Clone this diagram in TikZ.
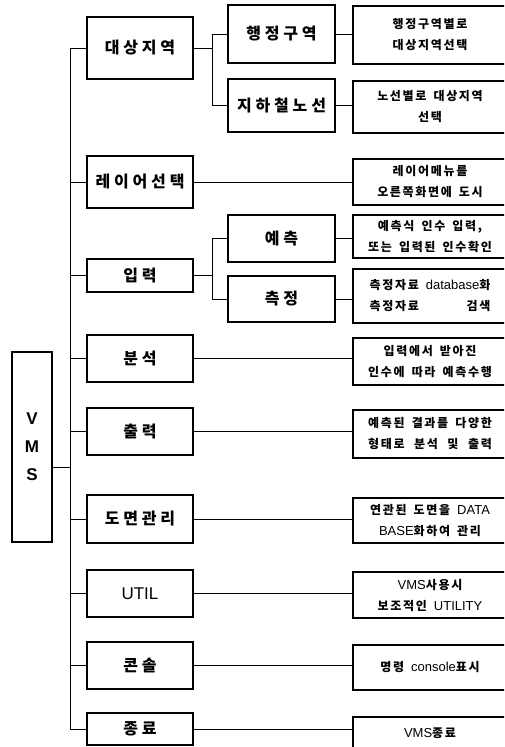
\documentclass[tikz,border=0pt]{standalone}
\usepackage{fontspec}
\setmainfont{Noto Sans CJK KR}
\newfontfamily\kr{Noto Sans CJK KR}[LetterSpace=14, WordSpace=1.6]
\newfontfamily\krl{Noto Sans CJK KR}[LetterSpace=24]
\newfontfamily\latf{Liberation Sans}
\newcommand\latn[1]{{\latf\mdseries\fontsize{13}{21}\selectfont #1}}
\begin{document}
\begin{tikzpicture}[x=1pt,y=-1pt,
  lbox/.style={draw, line width=2pt, inner sep=0pt, minimum width=106pt,
    font=\krl\bfseries\fontsize{16}{18}\selectfont},
  mbox/.style={lbox, minimum width=107pt},
  rbox/.style={draw, line width=1.2pt, inner sep=0pt, minimum width=154pt, align=center,
    font=\kr\bfseries\fontsize{12}{21}\selectfont},
  conn/.style={line width=1pt}]
\clip (0,0) rectangle (504,747);
\fill[white] (0,0) rectangle (504,747);
% VMS
\node[draw, line width=2pt, inner sep=0pt, minimum width=40pt, minimum height=190pt, align=center,
  font=\latf\bfseries\fontsize{17}{28}\selectfont] (vms) at (32,447) {V\\M\\S};
% left column
\node[lbox, minimum height=62pt] (dsjy) at (140,48) {대상지역};
\node[lbox, minimum height=52pt] (lyr) at (140,182) {레이어선택};
\node[lbox, minimum height=33pt] (ipr) at (140,275.5) {입력};
\node[lbox, minimum height=47pt] (bs) at (140,358.5) {분석};
\node[lbox, minimum height=47pt] (chr) at (140,431.5) {출력};
\node[lbox, minimum height=48pt] (dm) at (140,519) {도면관리};
\node[lbox, minimum height=47pt, font=\latf\fontsize{17}{18}\selectfont] (utl) at (140,593.5) {UTIL};
\node[lbox, minimum height=47pt] (ks) at (140,665.5) {콘솔};
\node[lbox, minimum height=32pt] (jr) at (140,729) {종료};
% middle column
\node[mbox, minimum height=58pt] (hj) at (281.5,34) {행정구역};
\node[mbox, minimum height=53pt] (jh) at (281.5,105.5) {지하철노선};
\node[mbox, minimum height=47pt] (ych) at (281.5,238.5) {예측};
\node[mbox, minimum height=46pt] (chj) at (281.5,299) {측정};
% right column
\node[rbox, minimum height=58pt] (r1) at (430,35) {행정구역별로\\대상지역선택};
\node[rbox, minimum height=52pt] (r2) at (430,107) {노선별로 대상지역\\선택};
\node[rbox, minimum height=46pt] (r3) at (430,182) {레이어메뉴를\\오른쪽화면에 도시};
\node[rbox, minimum height=43pt] (r4) at (430,236.5) {예측식 인수 입력,\\또는 입력된 인수확인};
\node[rbox, minimum height=54pt] (r5) at (430,296) {\begin{tabular}{@{}l@{}}측정자료 \latn{database}화\\측정자료\hfill 검색\end{tabular}};
\node[rbox, minimum height=47pt] (r6) at (430,361.5) {입력에서 받아진\\인수에 따라 예측수행};
\node[rbox, minimum height=48pt] (r7) at (430,434) {\begin{tabular}{@{}l@{}}예측된 결과를 다양한\\형태로\hfill 분석\hfill 및\hfill 출력\end{tabular}};
\node[rbox, minimum height=45pt] (r8) at (430,520.5) {연관된 도면을 \latn{DATA}\\\latn{BASE}화하여 관리};
\node[rbox, minimum height=46pt] (r9) at (430,595) {\latn{VMS}사용시\\보조적인 \latn{UTILITY}};
\node[rbox, minimum height=45pt] (r10) at (430,667.5) {명령 \latn{console}표시};
\node[rbox, minimum height=32pt] (r11) at (430,733) {\latn{VMS}종료};
% connectors
\coordinate (tk) at (70,0);
\coordinate (bk) at (212,0);
\draw[conn] (dsjy.west) -- (dsjy.west -| tk) -- (jr.west -| tk) -- (jr.west);
\foreach \n in {lyr,ipr,bs,chr,dm,utl,ks} \draw[conn] (\n.west) -- (\n.west -| tk);
\draw[conn] ([yshift=-20pt]vms.east) -- ([yshift=-20pt]vms.east -| tk);
\draw[conn] (dsjy.east) -- (dsjy.east -| bk);
\draw[conn] (hj.west) -- (hj.west -| bk) -- (jh.west -| bk) -- (jh.west);
\draw[conn] (ipr.east) -- (ipr.east -| bk);
\draw[conn] (ych.west) -- (ych.west -| bk) -- (chj.west -| bk) -- (chj.west);
\draw[conn] (hj.east) -- (r1.west |- hj.east);
\draw[conn] (jh.east) -- (r2.west |- jh.east);
\draw[conn] (lyr.east) -- (r3.west |- lyr.east);
\draw[conn] (ych.east) -- (r4.west |- ych.east);
\draw[conn] (chj.east) -- (r5.west |- chj.east);
\draw[conn] (bs.east) -- (r6.west |- bs.east);
\draw[conn] (chr.east) -- (r7.west |- chr.east);
\draw[conn] (dm.east) -- (r8.west |- dm.east);
\draw[conn] (utl.east) -- (r9.west |- utl.east);
\draw[conn] (ks.east) -- (r10.west |- ks.east);
\draw[conn] (jr.east) -- (r11.west |- jr.east);
\end{tikzpicture}
\end{document}
